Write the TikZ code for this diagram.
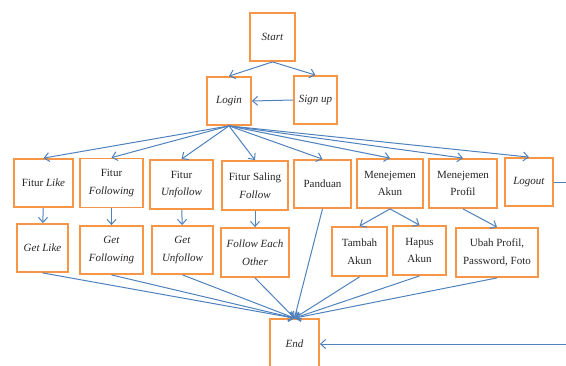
\documentclass[tikz,border=0pt]{standalone}
\usepackage{fontspec}
\setmainfont{Liberation Serif}
\usetikzlibrary{
    arrows.meta,
    calc
}
\definecolor{boxorange}{HTML}{F79646}
\definecolor{lineblue}{HTML}{4F81BD}
\tikzset {
    box/.style = {
        draw = boxorange, line width = 1.8pt, fill = white,
        align = center, inner sep = 2pt,
        font = \fontsize{11}{17.5}\selectfont, text = black!85
    },
    flow/.style = {
        draw = lineblue, line width = 1pt,
        arrows = {-Straight Barb[length = 5pt, width = 9pt]}
    },
    plain flow/.style = {draw = lineblue, line width = 1pt}
}
\begin{document}
\begin{tikzpicture}[x = 1pt, y = -1pt]
    \useasboundingbox (0, 0) rectangle (566, 365);
    % top
    \node (start) [box, minimum width = 45pt, minimum height = 48pt] at (272.5, 37) {\textit{Start}};
    \node (login) [box, minimum width = 44pt, minimum height = 48pt] at (229, 101) {\textit{Login}};
    \node (signup) [box, minimum width = 43pt, minimum height = 48pt] at (315.5, 100) {\textit{Sign up}};
    % features
    \node (flike) [box, minimum width = 59pt, minimum height = 48pt] at (43.5, 183) {Fitur \textit{Like}};
    \node (ffollowing) [box, minimum width = 63pt, minimum height = 49pt] at (111.5, 183) {Fitur\\\textit{Following}};
    \node (funfollow) [box, minimum width = 63pt, minimum height = 49pt] at (181.5, 184.5) {Fitur\\\textit{Unfollow}};
    \node (fsaling) [box, minimum width = 66pt, minimum height = 49pt] at (255, 185.5) {Fitur Saling\\\textit{Follow}};
    \node (panduan) [box, minimum width = 57pt, minimum height = 48pt] at (322.5, 184) {Panduan};
    \node (makun) [box, minimum width = 66pt, minimum height = 49pt] at (390, 183.5) {Menejemen\\Akun};
    \node (mprofil) [box, minimum width = 68pt, minimum height = 49pt] at (463, 183.5) {Menejemen\\Profil};
    \node (logout) [box, minimum width = 48pt, minimum height = 48pt] at (529, 182) {\textit{Logout}};
    % results
    \node (glike) [box, minimum width = 51pt, minimum height = 48pt] at (42.5, 248) {\textit{Get Like}};
    \node (gfollowing) [box, minimum width = 63pt, minimum height = 48pt] at (111.5, 250) {\textit{Get}\\\textit{Following}};
    \node (gunfollow) [box, minimum width = 61pt, minimum height = 48pt] at (182.5, 250) {\textit{Get}\\\textit{Unfollow}};
    \node (feach) [box, minimum width = 68pt, minimum height = 49pt] at (255, 252.5) {\textit{Follow Each}\\\textit{Other}};
    \node (tambah) [box, minimum width = 55pt, minimum height = 49pt] at (359.5, 251.5) {Tambah\\Akun};
    \node (hapus) [box, minimum width = 53pt, minimum height = 49pt] at (419.5, 250.5) {Hapus\\Akun};
    \node (ubah) [box, minimum width = 82pt, minimum height = 49pt] at (497, 252.5) {Ubah Profil,\\Password, Foto};
    \node (end) [box, minimum width = 49pt, minimum height = 50pt] at (294.5, 344) {\textit{End}};

    \draw [flow] (start.south) -- (login.north);
    \draw [flow] (start.south) -- (signup.north);
    \draw [flow] (signup.west) -- (login.east);
    \foreach \n in {flike, ffollowing, funfollow, fsaling, panduan, makun, mprofil, logout}
        \draw [flow] (login.south) -- (\n.north);
    \draw [flow] (flike) -- (glike);
    \draw [flow] (ffollowing) -- (gfollowing);
    \draw [flow] (funfollow) -- (gunfollow);
    \draw [flow] (fsaling) -- (feach);
    \draw [flow] (makun.south) -- (tambah.north);
    \draw [flow] (makun.south) -- (hapus.north);
    \draw [flow] (mprofil.south) -- (ubah.north);
    \foreach \n in {glike, gfollowing, gunfollow, feach, panduan, tambah, hapus, ubah}
        \draw [flow] (\n.south) -- (end.north);
    \coordinate (loopa) at (568, 182);
    \coordinate (loopb) at (568, 344);
    \draw [flow] (logout.east) -- (loopa) -- (loopb) -- (end.east);
\end{tikzpicture}
\end{document}
